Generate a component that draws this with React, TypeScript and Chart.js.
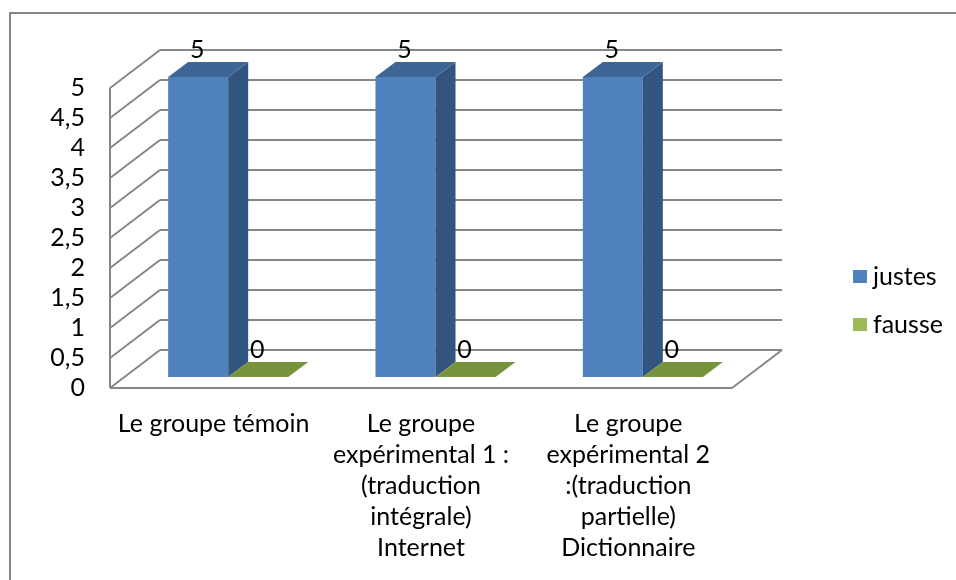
import { useEffect, useRef } from 'react';
import { Chart, registerables } from 'chart.js';

Chart.register(...registerables);

// ---- data ----
const categories: (string | string[])[] = [
  'Le groupe témoin',
  ['Le groupe', 'expérimental 1 :', '(traduction', 'intégrale)', 'Internet'],
  ['Le groupe', 'expérimental 2', ':(traduction', 'partielle)', 'Dictionnaire'],
];
const seriesNames = ['justes', 'fausse'];
const justes = [5, 5, 5];
const fausse = [0, 0, 0];
const yMax = 5;
const yStep = 0.5;

// ---- styling ----
const FONT = 'Lato';
const FONT_SIZE = 25;
const GRID = '#868686';
const FACES = [
  { front: '#4F81BD', top: '#3D6696', side: '#32557F' },
  { front: '#9BBB59', top: '#77933C', side: '#6A8535' },
];
// scale plane = front face of the bars; walls sit in front of / behind it
const FRONT = { dx: -14.5, dy: 11 };
const BACK = { dx: 35.5, dy: -27 };
const BAR_DEPTH = { dx: 20, dy: -15 };
const LEGEND = { x: 853, y: 277, gap: 48, box: 14 };

const fmt = (v: number) => String(v).replace('.', ',');

function line(ctx: CanvasRenderingContext2D, x1: number, y1: number, x2: number, y2: number) {
  ctx.beginPath();
  ctx.moveTo(x1, y1);
  ctx.lineTo(x2, y2);
  ctx.stroke();
}

function poly(ctx: CanvasRenderingContext2D, pts: number[][], color: string) {
  ctx.beginPath();
  ctx.moveTo(pts[0][0], pts[0][1]);
  for (let i = 1; i < pts.length; i++) ctx.lineTo(pts[i][0], pts[i][1]);
  ctx.closePath();
  ctx.fillStyle = color;
  ctx.fill();
}

const frame3d = {
  id: 'frame3d',
  beforeDraw(chart: any) {
    const { ctx, width, height } = chart;
    ctx.save();
    ctx.strokeStyle = '#868686';
    ctx.lineWidth = 2;
    ctx.strokeRect(10, 13, width + 20, height + 20);
    ctx.restore();
  },
  beforeDatasetsDraw(chart: any) {
    const { ctx, chartArea: a } = chart;
    const y = chart.scales.y;
    const fl = a.left + FRONT.dx;
    const fr = a.right + FRONT.dx;
    const bl = a.left + BACK.dx;
    const br = a.right + BACK.dx;
    ctx.save();
    ctx.strokeStyle = GRID;
    ctx.lineWidth = 2;
    y.ticks.forEach((t: any) => {
      const p = y.getPixelForValue(t.value);
      line(ctx, fl, p + FRONT.dy, bl, p + BACK.dy); // side wall
      line(ctx, bl, p + BACK.dy, br, p + BACK.dy); // back wall
    });
    const top = y.getPixelForValue(y.max);
    const base = y.getPixelForValue(0);
    line(ctx, fl, top + FRONT.dy, fl, base + FRONT.dy);
    line(ctx, fl, base + FRONT.dy, fr, base + FRONT.dy);
    line(ctx, fr, base + FRONT.dy, br, base + BACK.dy);
    ctx.restore();
  },
  afterDatasetsDraw(chart: any) {
    const { ctx } = chart;
    ctx.save();
    chart.data.datasets.forEach((ds: any, i: number) => {
      const faces = FACES[i];
      chart.getDatasetMeta(i).data.forEach((bar: any, j: number) => {
        const { x, y, base, width } = bar.getProps(['x', 'y', 'base', 'width'], true);
        const l = x - width / 2;
        const r = x + width / 2;
        const { dx, dy } = BAR_DEPTH;
        poly(ctx, [[r, y], [r + dx, y + dy], [r + dx, base + dy], [r, base]], faces.side);
        poly(ctx, [[l, y], [r, y], [r + dx, y + dy], [l + dx, y + dy]], faces.top);
        ctx.fillStyle = '#000';
        ctx.font = `${FONT_SIZE}px ${FONT}`;
        ctx.textAlign = 'center';
        ctx.textBaseline = 'alphabetic';
        ctx.fillText(fmt(ds.data[j]), x - 1, y + dy - 4);
      });
    });
    ctx.restore();
  },
  afterDraw(chart: any) {
    const { ctx } = chart;
    ctx.save();
    ctx.font = `${FONT_SIZE}px ${FONT}`;
    ctx.textAlign = 'left';
    ctx.textBaseline = 'middle';
    chart.data.datasets.forEach((ds: any, i: number) => {
      const cy = LEGEND.y + i * LEGEND.gap;
      ctx.fillStyle = ds.backgroundColor;
      ctx.fillRect(LEGEND.x, cy - LEGEND.box / 2, LEGEND.box, LEGEND.box - 1);
      ctx.fillStyle = '#000';
      ctx.fillText(ds.label, LEGEND.x + LEGEND.box + 6, cy);
    });
    ctx.restore();
  },
};

export default function App() {
  const ref = useRef<HTMLCanvasElement>(null);

  useEffect(() => {
    if (!ref.current) return;
    const chart = new Chart(ref.current, {
      type: 'bar',
      data: {
        labels: categories,
        datasets: [
          { label: seriesNames[0], data: justes, backgroundColor: FACES[0].front, borderWidth: 0 },
          { label: seriesNames[1], data: fausse, backgroundColor: FACES[1].front, borderWidth: 0 },
        ],
      },
      options: {
        responsive: false,
        animation: false,
        devicePixelRatio: 1,
        layout: { padding: { left: 0, right: 209.5, top: 77, bottom: 0 } },
        plugins: {
          legend: { display: false },
          tooltip: { enabled: false },
        },
        datasets: {
          bar: { categoryPercentage: 0.579, barPercentage: 1 },
        },
        scales: {
          x: {
            grid: { display: false, drawTicks: false },
            border: { display: false },
            ticks: {
              color: '#000',
              font: { family: FONT, size: FONT_SIZE, lineHeight: 31 / FONT_SIZE },
              padding: 31.5,
              labelOffset: FRONT.dx,
              maxRotation: 0,
              autoSkip: false,
            },
            afterFit: (s: any) => {
              s.height = 203;
            },
          },
          y: {
            min: 0,
            max: yMax,
            grid: { display: false, drawTicks: false },
            border: { display: false },
            ticks: {
              stepSize: yStep,
              autoSkip: false,
              color: '#000',
              font: { family: FONT, size: FONT_SIZE },
              padding: 39.5,
              labelOffset: FRONT.dy,
              callback: (v: any) => fmt(Number(v)),
            },
            afterFit: (s: any) => {
              s.width = 124.5;
            },
          },
        },
      },
      plugins: [frame3d],
    });
    return () => chart.destroy();
  }, []);

  return (
    <div style={{ position: 'absolute', left: 0, top: 0, width: 956, height: 580 }}>
      <canvas ref={ref} width={956} height={580} />
    </div>
  );
}
